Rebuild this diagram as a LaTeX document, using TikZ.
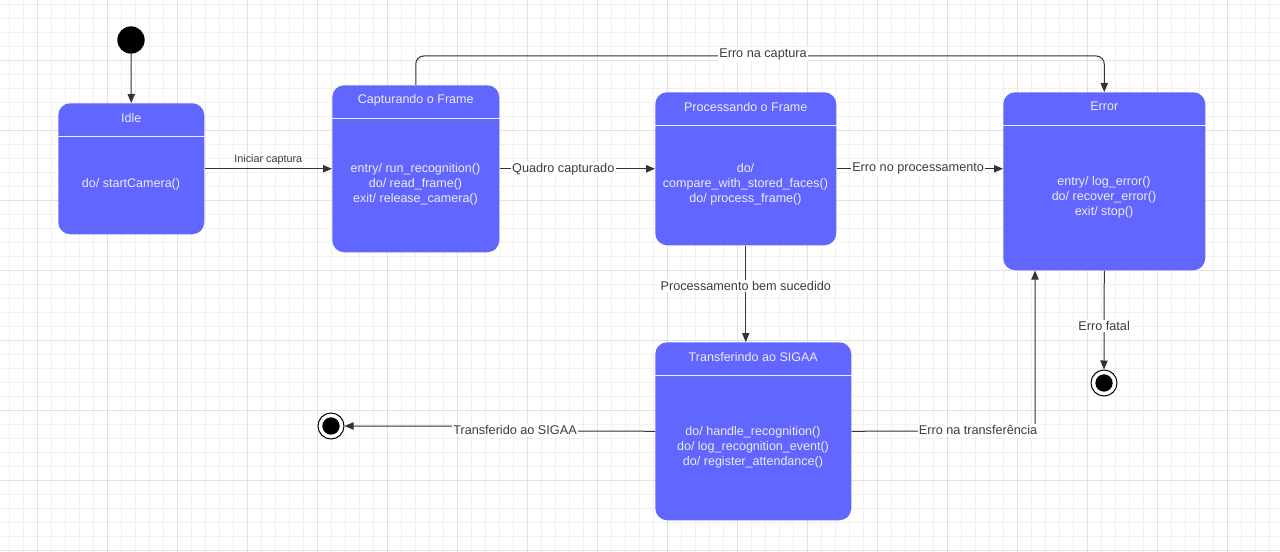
\documentclass[tikz,border=0pt]{standalone}
\usepackage{fontspec}
\setmainfont{Liberation Sans}
\usetikzlibrary{arrows.meta}
\definecolor{boxblue}{RGB}{97,102,255}
\definecolor{boxtext}{RGB}{234,236,255}
\definecolor{linegray}{RGB}{51,51,51}
\definecolor{labelgray}{RGB}{60,60,60}
\definecolor{gridminor}{RGB}{241,241,241}
\definecolor{gridmajor}{RGB}{226,226,226}
\tikzset{
  statebox/.style={draw=none, fill=boxblue, rounded corners=9pt, inner sep=0pt, anchor=north west},
  sepline/.style={draw=boxtext, line width=0.6pt},
  boxtitle/.style={text=boxtext, font=\fontsize{9.4}{11.25}\selectfont, inner sep=0pt},
  boxbody/.style={text=boxtext, font=\fontsize{9.4}{11.25}\selectfont, align=center, inner sep=0pt},
  conn/.style={draw=linegray, line width=0.75pt, -{Triangle[length=6.75pt,width=5.5pt]}},
  lbl/.style={fill=white, text=labelgray, font=\fontsize{9.5}{11}\selectfont, inner sep=1pt},
  smalllbl/.style={text=labelgray, font=\fontsize{8.1}{10}\selectfont, inner sep=1pt},
  initstate/.style={circle, fill=black, minimum size=20.5pt, inner sep=0pt},
  finalstate/.style={circle, draw=black, fill=white, line width=0.75pt, minimum size=19.5pt, inner sep=0pt},
  finaldot/.style={circle, fill=black, minimum size=13pt, inner sep=0pt}
}
\begin{document}
\begin{tikzpicture}[x=0.75pt,y=-0.75pt]
\useasboundingbox (0,0) rectangle (1280,552);
\fill[white] (0,0) rectangle (1280,552);
% grid
\foreach \x in {9,23,...,1280} \draw[gridminor,line width=0.6pt] (\x,0) -- (\x,552);
\foreach \y in {4,18,...,552} \draw[gridminor,line width=0.6pt] (0,\y) -- (1280,\y);
\foreach \x in {37,107,...,1280} \draw[gridmajor,line width=0.7pt] (\x,0) -- (\x,552);
\foreach \y in {60,130,...,552} \draw[gridmajor,line width=0.7pt] (0,\y) -- (1280,\y);

% states
\node[statebox, minimum width=109.5pt, minimum height=98.25pt] (idle) at (58,103) {};
\node[statebox, minimum width=125.25pt, minimum height=125.25pt] (capt) at (332,85) {};
\node[statebox, minimum width=135.75pt, minimum height=114.75pt] (proc) at (655,92) {};
\node[statebox, minimum width=151.5pt, minimum height=133.5pt] (err) at (1003,92) {};
\node[statebox, minimum width=147pt, minimum height=133.5pt] (trans) at (655,342) {};

\foreach \b in {idle,capt,proc,err,trans}
  \draw[sepline] ([yshift=-24.75pt]\b.north west) -- ([yshift=-24.75pt]\b.north east);

\node[boxtitle] (idlet) at ([yshift=-11.25pt]idle.north) {Idle};
\node[boxtitle] (captt) at ([yshift=-11.25pt]capt.north) {Capturando o Frame};
\node[boxtitle] (proct) at ([yshift=-11.25pt]proc.north) {Processando o Frame};
\node[boxtitle] (errt) at ([yshift=-10.5pt]err.north) {Error};
\node[boxtitle] (transt) at ([yshift=-11.25pt]trans.north) {Transferindo ao SIGAA};

\node[boxbody] (idleb) at (131,184) {do/ startCamera()};
\node[boxbody] (captb) at (415.5,184) {entry/ run\_recognition()\\do/ read\_frame()\\exit/ release\_camera()};
\node[boxbody] (procb) at (745.5,184) {do/\\compare\_with\_stored\_faces()\\do/ process\_frame()};
\node[boxbody] (errb) at (1104,197.5) {entry/ log\_error()\\do/ recover\_error()\\exit/ stop()};
\node[boxbody] (transb) at (753,447) {do/ handle\_recognition()\\do/ log\_recognition\_event()\\do/ register\_attendance()};

% pseudo states
\node[initstate] (init) at (131,40) {};
\node[finalstate] (fin1) at (331,426) {};
\node[finaldot] (fin1d) at (331,426) {};
\node[finalstate] (fin2) at (1104,383) {};
\node[finaldot] (fin2d) at (1104,383) {};

% connectors
\draw[conn] (init) -- (idle.north);
\draw[conn] (idle.east) -- (capt.west) node[smalllbl, midway, above=2pt] (l1) {Iniciar captura};
\draw[conn] (capt.east) -- (proc.west) node[lbl, pos=0.41] (l2) {Quadro capturado};
\draw[conn] (proc.east) -- (proc.east -| err.west) node[lbl, pos=0.49] (l3) {Erro no processamento};
\draw[conn, rounded corners=6pt] (capt.north) -- ++(0,-29) -| (err.north);
\node[lbl] (l4) at (763,54) {Erro na captura};
\draw[conn] (proc.south) -- (proc.south |- trans.north) node[lbl, pos=0.42] (l5) {Processamento bem sucedido};
\coordinate (j1) at (515,431);
\coordinate (j2) at (515,426);
\draw[conn] (trans.west) -- (j1) -- (j2) -- (fin1.east);
\node[lbl] (l6) at (515,430) {Transferido ao SIGAA};
\draw[conn] (err.south) -- (fin2.north) node[lbl, pos=0.56] (l7) {Erro fatal};
\coordinate (j3) at (1035,431);
\draw[conn] (trans.east) -- (j3) -- (j3 |- err.south);
\node[lbl] (l8) at (978,430) {Erro na transferência};
\end{tikzpicture}
\end{document}
